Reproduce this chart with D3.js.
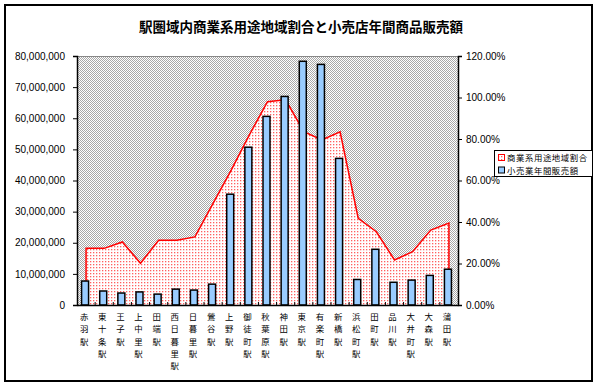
<!DOCTYPE html>
<html>
<head>
<meta charset="utf-8">
<script src="https://cdn.jsdelivr.net/npm/d3@7"></script>
<style>
  body { margin: 0; background: #fff; }
  svg { display: block; }
  .tick text { font-family: "Liberation Sans", Arial, sans-serif; font-size: 10px; fill: #000; }
</style>
</head>
<body>
<div id="chart"></div>
<script>
const stations = ["赤羽駅", "東十条駅", "王子駅", "上中里駅", "田端駅", "西日暮里駅", "日暮里駅",
  "鶯谷駅", "上野駅", "御徒町駅", "秋葉原駅", "神田駅", "東京駅", "有楽町駅", "新橋駅",
  "浜松町駅", "田町駅", "品川駅", "大井町駅", "大森駅", "蒲田駅"];

// 小売業年間販売額 (left axis)
const sales = [7700000, 4500000, 3850000, 4200000, 3500000, 5100000, 4800000,
  6700000, 35600000, 50700000, 60600000, 67000000, 78300000, 77300000, 47100000,
  8200000, 17900000, 7300000, 8000000, 9500000, 11500000];

// 商業系用途地域割合 (right axis, %)
const ratio = [27.3, 27.3, 30.4, 20.1, 31.2, 31.2, 32.8,
  49.0, 65.0, 82.0, 98.0, 98.9, 83.5, 79.5, 83.5,
  41.8, 35.3, 21.7, 25.7, 36.1, 39.5];

const leftTicks = [0, 10000000, 20000000, 30000000, 40000000, 50000000, 60000000, 70000000, 80000000];
const rightTicks = [0, 20, 40, 60, 80, 100, 120];
const legendLabels = ["商業系用途地域割合", "小売業年間販売額"];

const W = 599, H = 388;
const plot = { left: 77, right: 458, top: 56, bottom: 305 };
const cjk = '"Noto Sans CJK JP", "Noto Sans CJK SC", sans-serif';

const svg = d3.select('#chart').append('svg')
  .attr('width', W).attr('height', H);

const defs = svg.append('defs');
// gray checker background of the plot area
const bg = defs.append('pattern').attr('id', 'checker')
  .attr('width', 2).attr('height', 2).attr('patternUnits', 'userSpaceOnUse');
bg.append('rect').attr('width', 2).attr('height', 2).attr('fill', '#fff');
bg.append('rect').attr('x', 0).attr('y', 0).attr('width', 1).attr('height', 1).attr('fill', '#a8a8a8');
bg.append('rect').attr('x', 1).attr('y', 1).attr('width', 1).attr('height', 1).attr('fill', '#a8a8a8');

// red dotted fill for the area
const dots = defs.append('pattern').attr('id', 'reddots')
  .attr('width', 3).attr('height', 3).attr('patternUnits', 'userSpaceOnUse');
dots.append('rect').attr('width', 3).attr('height', 3).attr('fill', '#fff');
dots.append('rect').attr('x', 0).attr('y', 0).attr('width', 1.3).attr('height', 1.3).attr('fill', '#ff6060');

// chart frame
svg.append('rect')
  .attr('x', 5).attr('y', 5).attr('width', 587).attr('height', 376)
  .attr('fill', '#fff').attr('stroke', '#000').attr('stroke-width', 2);

// title
svg.append('text')
  .attr('x', 301).attr('y', 32)
  .attr('text-anchor', 'middle')
  .attr('font-family', cjk).attr('font-size', 13.5).attr('font-weight', 'bold')
  .text('駅圏域内商業系用途地域割合と小売店年間商品販売額');

const x = d3.scaleBand().domain(stations).range([plot.left, plot.right]);
const yL = d3.scaleLinear().domain([0, 80000000]).range([plot.bottom, plot.top]);
const yR = d3.scaleLinear().domain([0, 120]).range([plot.bottom, plot.top]);
const cx = d => x(d) + x.bandwidth() / 2;

// plot background
svg.append('rect')
  .attr('x', plot.left).attr('y', plot.top)
  .attr('width', plot.right - plot.left).attr('height', plot.bottom - plot.top)
  .attr('fill', 'url(#checker)');
svg.append('line')
  .attr('x1', plot.left).attr('x2', plot.right)
  .attr('y1', plot.top + 0.5).attr('y2', plot.top + 0.5)
  .attr('stroke', '#888');

// area series
const area = d3.area()
  .x((d, i) => cx(stations[i]))
  .y0(yR(0))
  .y1(d => yR(d));
svg.append('path')
  .datum(ratio)
  .attr('d', area)
  .attr('fill', 'url(#reddots)');
// outline: left edge, top line, right edge
const outline = [0].concat(ratio).concat([0]);
svg.append('path')
  .attr('d', d3.line()
    .x((d, i) => cx(stations[Math.min(Math.max(i - 1, 0), stations.length - 1)]))
    .y(d => yR(d))(outline))
  .attr('fill', 'none').attr('stroke', '#ff0000').attr('stroke-width', 1.5);

// bars
const barW = 7;
svg.append('g').selectAll('rect')
  .data(sales)
  .enter().append('rect')
  .attr('x', (d, i) => cx(stations[i]) - 1 - barW / 2)
  .attr('y', d => yL(d))
  .attr('width', barW)
  .attr('height', d => yL(0) - yL(d))
  .attr('fill', '#99ccff')
  .attr('stroke', '#000')
  .attr('stroke-width', 1.5);

// left axis
const axL = svg.append('g')
  .attr('transform', `translate(${plot.left},0)`)
  .call(d3.axisLeft(yL).tickValues(leftTicks).tickSize(4).tickPadding(8)
    .tickFormat(d => d === 0 ? '0' : d3.format(',')(d)));
axL.select('.domain').attr('stroke', '#000').attr('stroke-width', 1.5);

// right axis
const axR = svg.append('g')
  .attr('transform', `translate(${plot.right},0)`)
  .call(d3.axisRight(yR).tickValues(rightTicks).tickSize(4).tickPadding(4)
    .tickFormat(d => d3.format('.2f')(d) + '%'));
axR.select('.domain').attr('stroke', '#000').attr('stroke-width', 1.5);

// bottom axis
const axB = svg.append('g')
  .attr('transform', `translate(0,${plot.bottom})`)
  .call(d3.axisBottom(x).tickSize(0).tickFormat(''));
axB.select('.domain').attr('stroke', '#000').attr('stroke-width', 1.5);
axB.selectAll('.sep')
  .data(stations.slice(1))
  .enter().append('line')
  .attr('class', 'sep')
  .attr('x1', d => x(d)).attr('x2', d => x(d))
  .attr('y1', -3).attr('y2', 0)
  .attr('stroke', '#000');

// vertical category labels, one character per row
const labels = svg.append('g')
  .attr('font-family', cjk).attr('font-size', 8.4)
  .selectAll('g')
  .data(stations)
  .enter().append('g');
labels.each(function(d) {
  const g = d3.select(this);
  [...d].forEach((ch, k) => {
    g.append('text')
      .attr('text-anchor', 'middle')
      .attr('x', cx(d) - 2)
      .attr('y', 320 + k * 12.3)
      .text(ch);
  });
});

// legend
const lg = svg.append('g');
lg.append('rect')
  .attr('x', 494.5).attr('y', 150.5).attr('width', 98).attr('height', 26)
  .attr('fill', '#fff').attr('stroke', '#000');
lg.append('rect')
  .attr('x', 498.5).attr('y', 154.5).attr('width', 6).attr('height', 6)
  .attr('fill', 'url(#reddots)').attr('stroke', '#ff0000');
lg.append('rect')
  .attr('x', 498.5).attr('y', 167).attr('width', 6).attr('height', 6)
  .attr('fill', '#99ccff').attr('stroke', '#000');
lg.selectAll('text')
  .data(legendLabels)
  .enter().append('text')
  .attr('x', 507).attr('y', (d, i) => 161 + i * 12.5)
  .attr('font-family', cjk).attr('font-size', 8.4)
  .attr('letter-spacing', 0.6)
  .text(d => d);
</script>
</body>
</html>
